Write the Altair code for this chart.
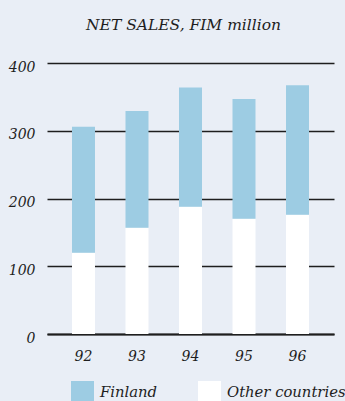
import altair as alt
import pandas as pd

# Net sales by year, FIM million
years = ["92", "93", "94", "95", "96"]
other_countries = [120, 157, 188, 170, 176]
finland = [186, 172, 176, 177, 191]
series = ["Finland", "Other countries"]
colors = ["#9dcce3", "#ffffff"]
y_ticks = [0, 100, 200, 300, 400]

rows = []
for i, yr in enumerate(years):
    rows.append({"year": yr, "market": "Other countries", "sales": other_countries[i], "stack": 0})
    rows.append({"year": yr, "market": "Finland", "sales": finland[i], "stack": 1})
df = pd.DataFrame(rows)

FONT = "DejaVu Serif"
INK = "#1e1e1e"

bars = alt.Chart(df).mark_bar(size=23).encode(
    x=alt.X(
        "year:N",
        sort=years,
        title=None,
        scale=alt.Scale(paddingInner=0.57, paddingOuter=0.467),
        axis=alt.Axis(
            labelFont=FONT, labelFontStyle="italic", labelFontSize=14,
            labelColor=INK, labelAngle=0, labelPadding=15,
            ticks=False, domain=True, domainColor=INK, domainWidth=2,
            grid=False,
        ),
    ),
    y=alt.Y(
        "sales:Q",
        stack="zero",
        title=None,
        scale=alt.Scale(domain=[0, 400], nice=False),
        axis=alt.Axis(
            values=y_ticks, labelFont=FONT, labelFontStyle="italic",
            labelFontSize=14, labelColor=INK, labelPadding=12, labelOffset=4,
            ticks=False, domain=False, grid=True, gridColor=INK, gridWidth=1.6,
            gridOpacity=1,
        ),
    ),
    color=alt.Color(
        "market:N",
        scale=alt.Scale(domain=series, range=colors),
        legend=alt.Legend(
            title=None, orient="none", legendX=24, legendY=318,
            direction="horizontal", symbolType="square", symbolSize=529,
            symbolStrokeWidth=0, symbolOpacity=1, labelFont=FONT,
            labelFontStyle="italic", labelFontSize=14.8, labelColor=INK,
            labelOffset=6, columnPadding=40,
        ),
    ),
    order=alt.Order("stack:Q"),
)

chart = bars.properties(
    width=287,
    height=271,
    title=alt.TitleParams(
        "NET SALES, FIM million", font=FONT, fontStyle="italic",
        fontWeight="normal", fontSize=15.5, color=INK, anchor="middle",
        frame="group", dx=-7, offset=27,
    ),
    autosize=alt.AutoSizeParams(type="none"),
    padding={"left": 47, "top": 63, "right": 11, "bottom": 67},
    background="#e9eef6",
).configure_view(stroke=None)

chart.save("out.html", embed_options={"renderer": "svg", "actions": False})
